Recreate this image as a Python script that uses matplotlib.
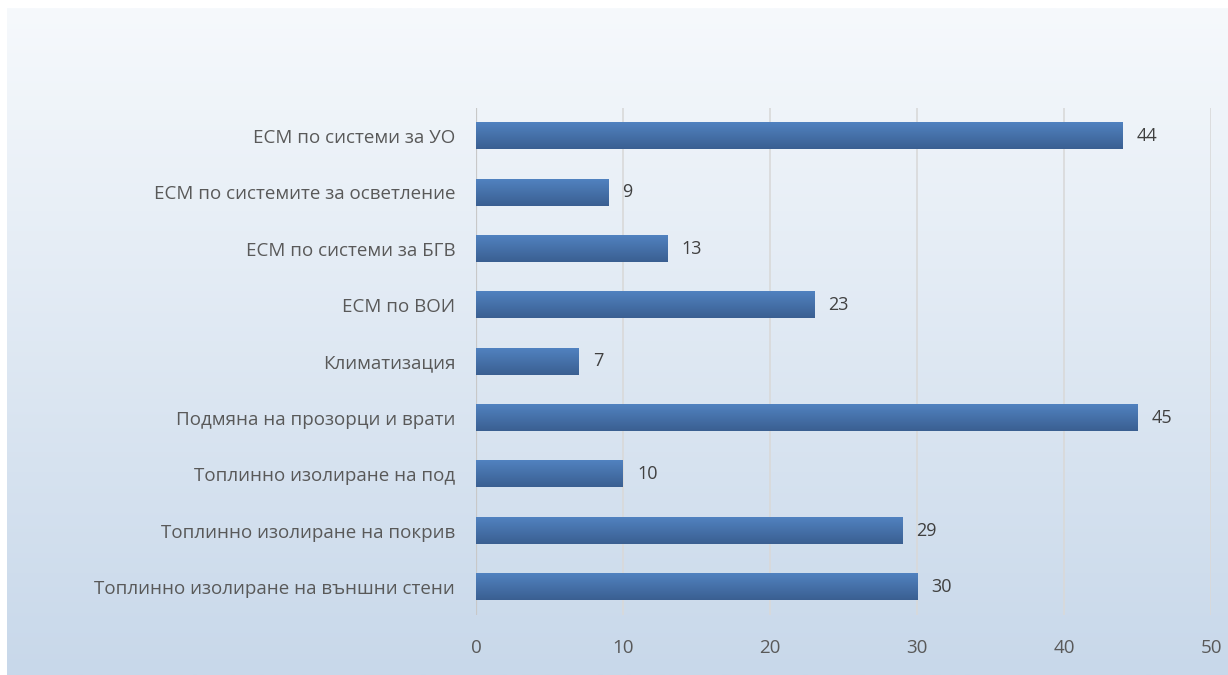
import numpy as np
import matplotlib
matplotlib.use('Agg')
import matplotlib.pyplot as plt
from matplotlib.colors import LinearSegmentedColormap

categories = [
    'ЕСМ по системи за УО',
    'ЕСМ по системите за осветление',
    'ЕСМ по системи за БГВ',
    'ЕСМ по ВОИ',
    'Климатизация',
    'Подмяна на прозорци и врати',
    'Топлинно изолиране на под',
    'Топлинно изолиране на покрив',
    'Топлинно изолиране на външни стени',
]
values = [44, 9, 13, 23, 7, 45, 10, 29, 30]
x_ticks = [0, 10, 20, 30, 40, 50]

plt.rcParams['font.family'] = ['Open Sans', 'DejaVu Sans']
text_color = '#595959'

W, H = 1228, 675
fig = plt.figure(figsize=(W / 100, H / 100), dpi=100)
fig.patch.set_facecolor('white')

# background gradient panel
bg = fig.add_axes([7 / W, 0, 1 - 7 / W, 1 - 8 / H])
bg.set_axis_off()
bg_cmap = LinearSegmentedColormap.from_list('bg', ['#f6f9fc', '#c8d8ea'])
grad = np.linspace(0, 1, 256).reshape(-1, 1)
bg.imshow(grad, aspect='auto', cmap=bg_cmap, extent=[0, 1, 0, 1], origin='upper')
bg.set_xlim(0, 1)
bg.set_ylim(0, 1)

# plot area: x=0 at 476px, x=50 at 1211px; rows from 107px to 615px
left, right = 476, 1211
top, bottom = 108, 615
ax = fig.add_axes([left / W, 1 - bottom / H, (right - left) / W, (bottom - top) / H])
ax.patch.set_alpha(0)

n = len(categories)
ypos = np.arange(n)
bar_h = 0.47

bar_cmap = LinearSegmentedColormap.from_list('bar', ['#5182c0', '#3a5f91'])
for y, v in zip(ypos, values):
    ax.imshow(grad, aspect='auto', cmap=bar_cmap, origin='upper',
              extent=[0, v, y + bar_h / 2, y - bar_h / 2], zorder=3,
              interpolation='bilinear')
    ax.text(v + 0.95, y, str(v), va='center', ha='left', fontsize=13,
            color='#404040', zorder=5)

ax.set_xlim(0, 50)
ax.set_ylim(n - 0.5, -0.5)

ax.set_xticks(x_ticks)
ax.set_xticklabels([str(t) for t in x_ticks])
ax.set_yticks(ypos)
ax.set_yticklabels(categories)
ax.tick_params(axis='both', length=0, labelsize=13.5, labelcolor=text_color)
ax.tick_params(axis='x', pad=17)
ax.tick_params(axis='y', pad=15)

ax.grid(axis='x', color='#d9d9d9', linewidth=1.2, zorder=0)
ax.set_axisbelow(True)
for s in ax.spines.values():
    s.set_visible(False)
ax.axvline(0, color='#c8c8c8', linewidth=1.6, zorder=2)

fig.savefig('out.png', dpi=100)
